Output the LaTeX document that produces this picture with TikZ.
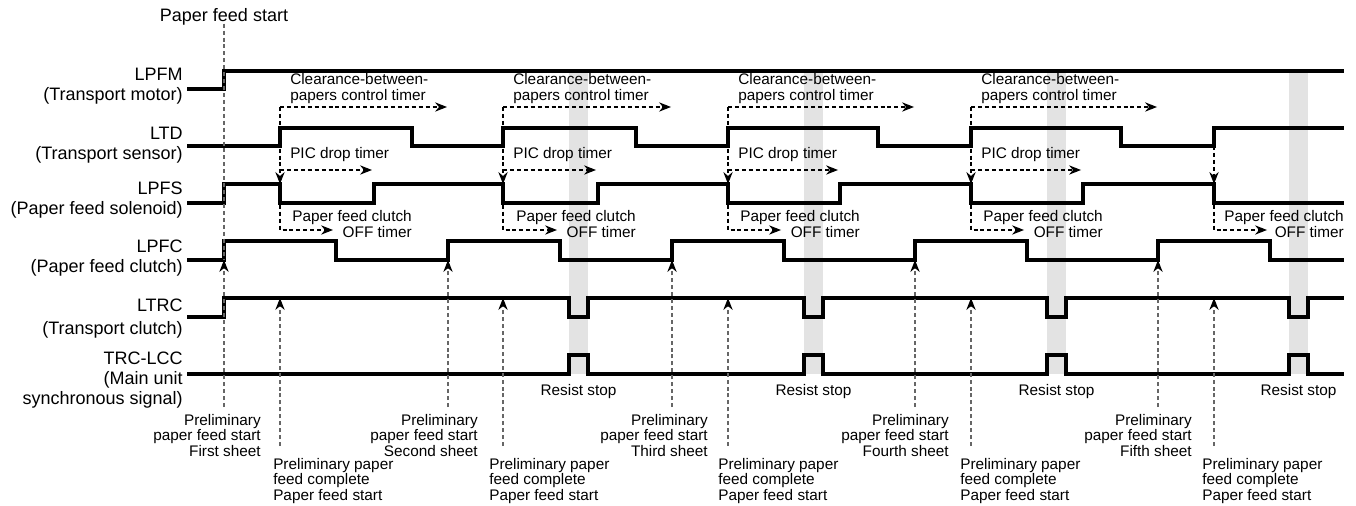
\documentclass[tikz,border=0pt]{standalone}
\usepackage{fontspec}
\setmainfont{Liberation Sans}
\usetikzlibrary{arrows.meta}

\begin{document}
\begin{tikzpicture}[
    x=0.75pt, y=-0.75pt,
    wave/.style = {line width=2.6pt},
    band/.style = {fill=black!11},
    guide/.style = {draw=black!60, line width=0.85pt, dash pattern=on 3pt off 2.2pt},
    timer/.style = {draw=black, line width=0.85pt, dash pattern=on 3pt off 2.2pt},
    tip/.style = {-{Stealth[length=9pt, width=7pt, inset=3pt, color=black]}},
    signame/.style = {anchor=east, align=right, inner sep=0pt, font=\fontsize{13.5}{15}\selectfont},
    note/.style = {inner sep=0pt, font=\fontsize{11.5}{11.5}\selectfont}
  ]
\useasboundingbox (0,0) rectangle (1356,506);

\foreach \x in {569, 804, 1047, 1289}
  \fill[band] (\x,71) rectangle ++(19,303);

\node[signame, anchor=center] (start) at (224,17) {Paper feed start};
\node[signame] (lpfm) at (183,86.5) {LPFM\\(Transport motor)};
\node[signame] (ltd) at (183,145) {LTD\\(Transport sensor)};
\node[signame] (lpfs) at (183,200.5) {LPFS\\(Paper feed solenoid)};
\node[signame] (lpfc) at (183,258) {LPFC\\(Paper feed clutch)};
\node[signame] (ltrc) at (183,318.5) {LTRC\\[2pt](Transport clutch)};
\node[signame] (lcc) at (183,380) {TRC-LCC\\(Main unit\\synchronous signal)};

\draw[wave] (187,89) -| (224,71) -- (1344,71);
\draw[wave] (187,146) -| (280,128) -| (412,146) -| (503,128) -| (636,146) -| (728,128)
  -| (878,146) -| (971,128) -| (1121,146) -| (1214,128) -- (1344,128);
\draw[wave] (187,203) -| (224,184) -| (280,203) -| (374,184) -| (503,203) -| (598,184)
  -| (728,203) -| (840,184) -| (971,203) -| (1083,184) -| (1214,203) -- (1344,203);
\draw[wave] (187,260) -| (224,241) -| (336,260) -| (448,241) -| (560,260) -| (672,241)
  -| (784,260) -| (915,241) -| (1027,260) -| (1158,241) -| (1270,260) -- (1344,260);
\draw[wave] (187,317) -| (224,298) -| (569,317) -| (588,298) -| (804,317) -| (823,298)
  -| (1047,317) -| (1066,298) -| (1289,317) -| (1308,298) -- (1344,298);
\draw[wave] (187,374) -| (569,355) -| (588,374) -| (804,355) -| (823,374)
  -| (1047,355) -| (1066,374) -| (1289,355) -| (1308,374) -- (1344,374);

\draw[guide] (start.south) ++(0,-2) -- (224,260);
\draw[guide, tip] (224,407) -- (224,260);
\foreach \c in {448, 672, 915, 1158}
  \draw[guide, tip] (\c,407) -- (\c,260);
\foreach \r in {280, 503, 728, 971, 1214}
  \draw[guide, tip] (\r,446) -- (\r,298);

\foreach \r/\c/\p/\o in {280/448/374/336, 503/672/598/560, 728/915/840/784, 971/1158/1083/1027} {
  \draw[timer, tip] (\r,107) -- (\c-1,107);
  \draw[timer, tip] (\r,107) -- (\r,184);
  \draw[timer, tip] (\r,170) -- (\p-2,170);
  \draw[timer, tip] (\r,184) |- (\o-3,230);
  \node[note, anchor=west, align=left] (clr\r) at (\r+10,88.5) {Clearance-between-\\papers control timer};
  \node[note, anchor=west] (pic\r) at (\r+10,155) {PIC drop timer};
  \node[note, anchor=east, align=right] (off\r) at (\o+76,224) {Paper feed clutch\\OFF timer};
}
\draw[timer, tip] (1214,146) -- (1214,184);
\draw[timer, tip] (1214,184) |- (1267,230);
\node[note, anchor=east, align=right] (off1214) at (1344,224) {Paper feed clutch\\OFF timer};

\foreach \x in {569, 804, 1047, 1289}
  \node[note] (stop\x) at (\x+9.5,392) {Resist stop};
\foreach \x/\sheet in {261/First, 478/Second, 708/Third, 949/Fourth, 1192/Fifth}
  \node[note, anchor=east, align=right] (pre\sheet) at (\x,435.5) {Preliminary\\paper feed start\\\sheet\ sheet};
\foreach \x in {273, 489, 718, 960, 1202}
  \node[note, anchor=west, align=left] (done\x) at (\x,481) {Preliminary paper\\feed complete\\Paper feed start};
\end{tikzpicture}
\end{document}
